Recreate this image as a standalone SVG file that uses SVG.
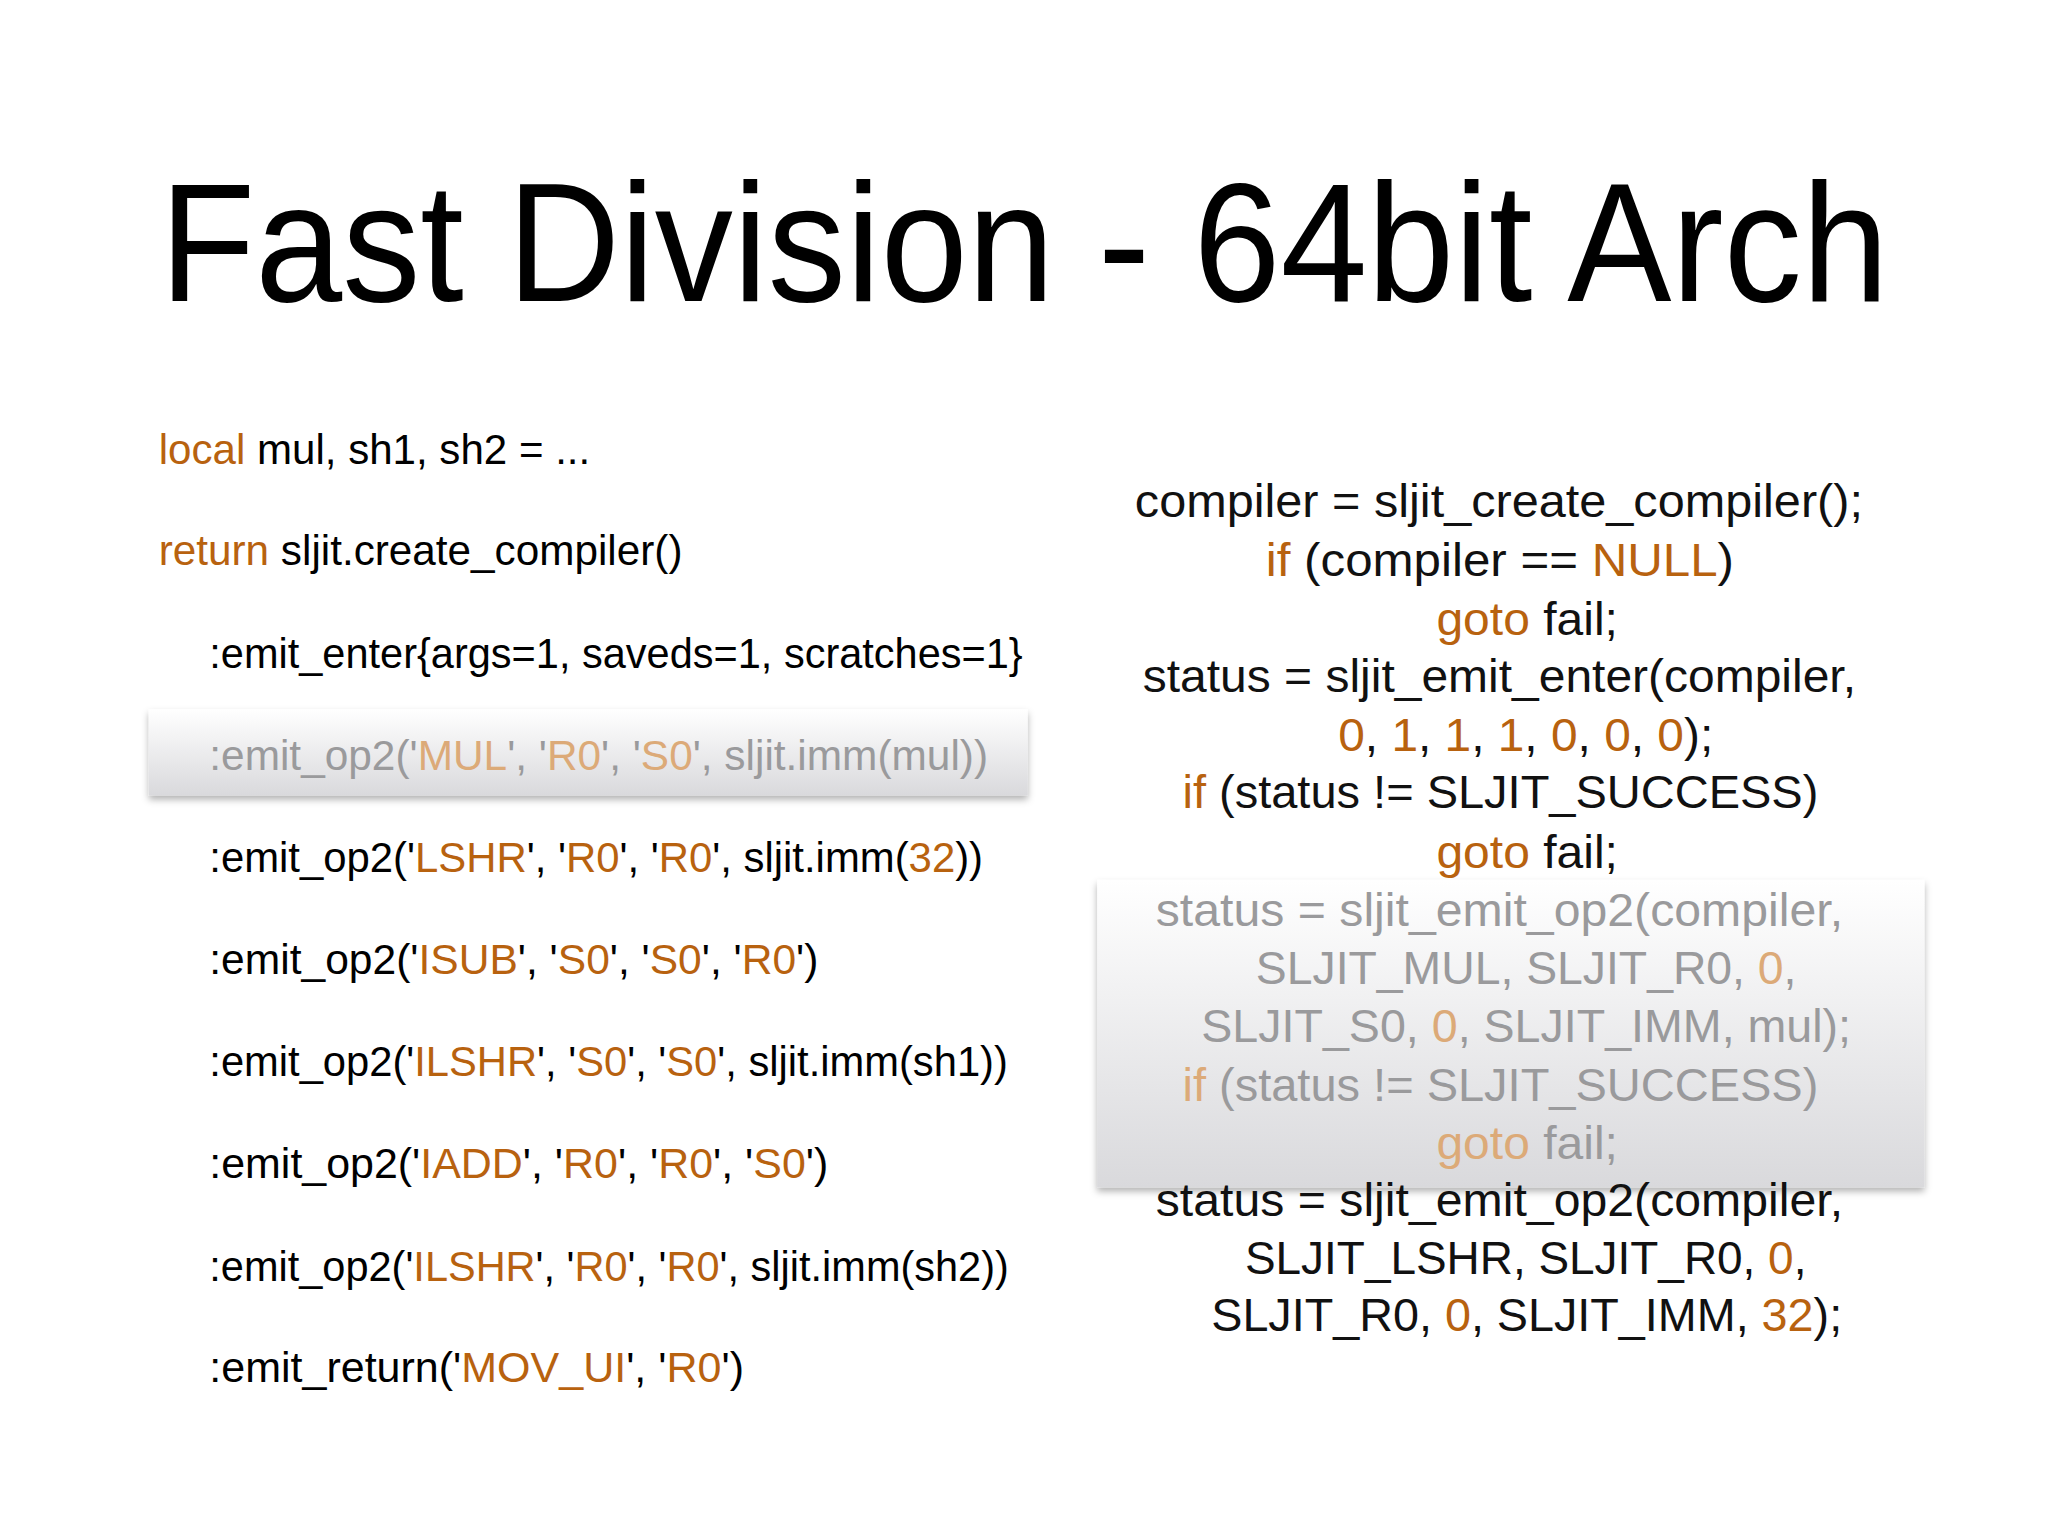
<svg xmlns="http://www.w3.org/2000/svg" width="2048" height="1536" viewBox="0 0 2048 1536">
<defs>
<linearGradient id="g" x1="0" y1="0" x2="0" y2="1"><stop offset="0" stop-color="#ffffff"/><stop offset="1" stop-color="#d9d9dc"/></linearGradient>
<filter id="sh" x="-5%" y="-10%" width="110%" height="130%"><feDropShadow dx="0" dy="4" stdDeviation="4" flood-color="#000" flood-opacity="0.3"/></filter>
<style>
.t{font-family:"Liberation Sans",Arial,sans-serif;font-size:170px;fill:#000}
.l{font-family:"Liberation Sans",Arial,sans-serif;font-size:42px;fill:#000}
.r{font-family:"Liberation Sans",Arial,sans-serif;font-size:46px;fill:#111}
.o{fill:#b8620f}
.g{fill:#9a9a9c}
.fo{fill:#dcaa78}
</style>
</defs>
<rect width="2048" height="1536" fill="#fff"/>
<g transform="scale(0.992)">
<text class="t" x="161" y="303" textLength="1743" lengthAdjust="spacingAndGlyphs">Fast Division - 64bit Arch</text>
<g id="left-code">
<rect x="150" y="715" width="886" height="87" fill="url(#g)" filter="url(#sh)"/>
<text class="l" x="160" y="468" textLength="435" lengthAdjust="spacingAndGlyphs"><tspan class="o">local</tspan> mul, sh1, sh2 = ...</text>
<text class="l" x="160" y="570" textLength="528" lengthAdjust="spacingAndGlyphs"><tspan class="o">return</tspan> sljit.create_compiler()</text>
<text class="l" x="211" y="673" textLength="820" lengthAdjust="spacingAndGlyphs">:emit_enter{args=1, saveds=1, scratches=1}</text>
<text class="l g" x="211" y="776" textLength="785" lengthAdjust="spacingAndGlyphs">:emit_op2('<tspan class="fo">MUL</tspan>', '<tspan class="fo">R0</tspan>', '<tspan class="fo">S0</tspan>', sljit.imm(mul))</text>
<text class="l" x="211" y="879" textLength="780" lengthAdjust="spacingAndGlyphs">:emit_op2('<tspan class="o">LSHR</tspan>', '<tspan class="o">R0</tspan>', '<tspan class="o">R0</tspan>', sljit.imm(<tspan class="o">32</tspan>))</text>
<text class="l" x="211" y="982" textLength="614" lengthAdjust="spacingAndGlyphs">:emit_op2('<tspan class="o">ISUB</tspan>', '<tspan class="o">S0</tspan>', '<tspan class="o">S0</tspan>', '<tspan class="o">R0</tspan>')</text>
<text class="l" x="211" y="1085" textLength="805" lengthAdjust="spacingAndGlyphs">:emit_op2('<tspan class="o">ILSHR</tspan>', '<tspan class="o">S0</tspan>', '<tspan class="o">S0</tspan>', sljit.imm(sh1))</text>
<text class="l" x="211" y="1188" textLength="624" lengthAdjust="spacingAndGlyphs">:emit_op2('<tspan class="o">IADD</tspan>', '<tspan class="o">R0</tspan>', '<tspan class="o">R0</tspan>', '<tspan class="o">S0</tspan>')</text>
<text class="l" x="211" y="1291" textLength="806" lengthAdjust="spacingAndGlyphs">:emit_op2('<tspan class="o">ILSHR</tspan>', '<tspan class="o">R0</tspan>', '<tspan class="o">R0</tspan>', sljit.imm(sh2))</text>
<text class="l" x="211" y="1393" textLength="539" lengthAdjust="spacingAndGlyphs">:emit_return('<tspan class="o">MOV_UI</tspan>', '<tspan class="o">R0</tspan>')</text>
</g>
<g id="right-code">
<rect x="1106" y="887" width="834" height="310" fill="url(#g)" filter="url(#sh)"/>
<text class="r" x="1144" y="521" textLength="734" lengthAdjust="spacingAndGlyphs">compiler = sljit_create_compiler();</text>
<text class="r" x="1276" y="581" textLength="472" lengthAdjust="spacingAndGlyphs"><tspan class="o">if</tspan> (compiler == <tspan class="o">NULL</tspan>)</text>
<text class="r" x="1448" y="640" textLength="183" lengthAdjust="spacingAndGlyphs"><tspan class="o">goto</tspan> fail;</text>
<text class="r" x="1152" y="698" textLength="719" lengthAdjust="spacingAndGlyphs">status = sljit_emit_enter(compiler,</text>
<text class="r" x="1349" y="757" textLength="378" lengthAdjust="spacingAndGlyphs"><tspan class="o">0</tspan>, <tspan class="o">1</tspan>, <tspan class="o">1</tspan>, <tspan class="o">1</tspan>, <tspan class="o">0</tspan>, <tspan class="o">0</tspan>, <tspan class="o">0</tspan>);</text>
<text class="r" x="1192" y="815" textLength="641" lengthAdjust="spacingAndGlyphs"><tspan class="o">if</tspan> (status != SLJIT_SUCCESS)</text>
<text class="r" x="1448" y="875" textLength="183" lengthAdjust="spacingAndGlyphs"><tspan class="o">goto</tspan> fail;</text>
<text class="r g" x="1165" y="933" textLength="693" lengthAdjust="spacingAndGlyphs">status = sljit_emit_op2(compiler,</text>
<text class="r g" x="1266" y="992" textLength="545" lengthAdjust="spacingAndGlyphs">SLJIT_MUL, SLJIT_R0, <tspan class="fo">0</tspan>,</text>
<text class="r g" x="1211" y="1050" textLength="655" lengthAdjust="spacingAndGlyphs">SLJIT_S0, <tspan class="fo">0</tspan>, SLJIT_IMM, mul);</text>
<text class="r g" x="1192" y="1110" textLength="641" lengthAdjust="spacingAndGlyphs"><tspan class="fo">if</tspan> (status != SLJIT_SUCCESS)</text>
<text class="r g" x="1448" y="1168" textLength="183" lengthAdjust="spacingAndGlyphs"><tspan class="fo">goto</tspan> fail;</text>
<text class="r" x="1165" y="1226" textLength="693" lengthAdjust="spacingAndGlyphs">status = sljit_emit_op2(compiler,</text>
<text class="r" x="1255" y="1284" textLength="566" lengthAdjust="spacingAndGlyphs">SLJIT_LSHR, SLJIT_R0, <tspan class="o">0</tspan>,</text>
<text class="r" x="1221" y="1342" textLength="636" lengthAdjust="spacingAndGlyphs">SLJIT_R0, <tspan class="o">0</tspan>, SLJIT_IMM, <tspan class="o">32</tspan>);</text>
</g>
</g>
</svg>
